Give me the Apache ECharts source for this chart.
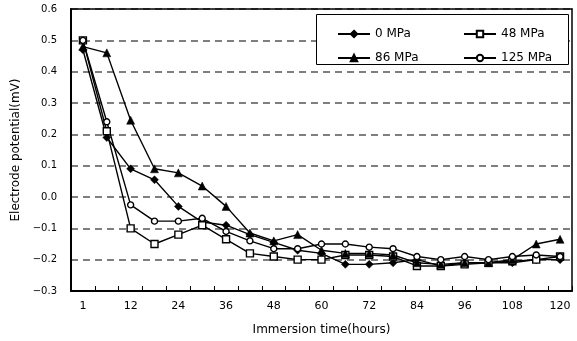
<!DOCTYPE html>
<html>
<head>
<meta charset="utf-8">
<script src="https://cdn.jsdelivr.net/npm/echarts@6/dist/echarts.min.js"></script>
<style>
html,body{margin:0;padding:0;background:#fff;}
#chart{width:577px;height:341px;}
</style>
</head>
<body>
<div id="chart"></div>
<script>
var categories = ['1','6','12','18','24','30','36','42','48','54','60','66','72','78','84','90','96','102','108','114','120'];
var seriesNames = ['0 MPa','48 MPa','86 MPa','125 MPa'];
var mpa0   = [0.47, 0.19, 0.09, 0.055, -0.03, -0.08, -0.09, -0.12, -0.145, -0.17, -0.18, -0.215, -0.215, -0.21, -0.20, -0.22, -0.21, -0.21, -0.21, -0.20, -0.20];
var mpa48  = [0.50, 0.21, -0.10, -0.15, -0.12, -0.09, -0.135, -0.18, -0.19, -0.20, -0.20, -0.185, -0.185, -0.19, -0.22, -0.22, -0.215, -0.21, -0.205, -0.20, -0.19];
var mpa86  = [0.48, 0.46, 0.245, 0.09, 0.077, 0.035, -0.03, -0.115, -0.14, -0.12, -0.17, -0.18, -0.18, -0.185, -0.21, -0.215, -0.21, -0.21, -0.20, -0.15, -0.135];
var mpa125 = [0.50, 0.24, -0.025, -0.077, -0.077, -0.068, -0.11, -0.14, -0.165, -0.165, -0.15, -0.15, -0.16, -0.165, -0.19, -0.20, -0.19, -0.20, -0.19, -0.185, -0.19];
var yTicks = {min: -0.3, max: 0.6, interval: 0.1};

var FONT = 'DejaVu Sans';
var chart = echarts.init(document.getElementById('chart'), null, {renderer: 'canvas'});

function mkSeries(name, data, symbol, size, hollow) {
  return {
    name: name, type: 'line', data: data,
    symbol: symbol, symbolSize: size, showAllSymbol: true,
    lineStyle: {color: '#000', width: 1.4},
    itemStyle: hollow ? {color: '#fff', borderColor: '#000', borderWidth: 1.4} : {color: '#000', borderColor: '#000', borderWidth: 0.5},
    emphasis: {disabled: true},
    animation: false,
    z: 5
  };
}

function mkLegend(name, left, top) {
  return {
    data: [name], left: left, top: top,
    itemWidth: 32, itemHeight: 8,
    textStyle: {fontFamily: FONT, fontSize: 12, color: '#000'},
    selectedMode: false, z: 10
  };
}

var option = {
  backgroundColor: '#fff',
  animation: false,
  grid: {left: 71, right: 5, top: 9, bottom: 46, show: false},
  legend: [
    mkLegend(seriesNames[0], 332, 23),
    mkLegend(seriesNames[1], 458, 23),
    mkLegend(seriesNames[2], 332, 47),
    mkLegend(seriesNames[3], 458, 47)
  ],
  graphic: [{
    type: 'rect', left: 316, top: 14, z: 8,
    shape: {width: 252, height: 50},
    style: {fill: '#fff', stroke: '#000', lineWidth: 1}
  }],
  xAxis: [{
    type: 'category', data: categories, boundaryGap: true,
    name: 'Immersion time(hours)', nameLocation: 'middle', nameGap: 33,
    nameTextStyle: {fontFamily: FONT, fontSize: 12, color: '#000'},
    axisLine: {onZero: false, lineStyle: {color: '#000', width: 2}},
    axisTick: {show: true, inside: true, length: 5, interval: 0, lineStyle: {color: '#000', width: 1}},
    axisLabel: {interval: 1, margin: 10, fontFamily: FONT, fontSize: 11, color: '#000'},
    splitLine: {show: false}
  }, {
    type: 'category', data: categories, position: 'top', z: 20,
    axisLine: {show: true, onZero: false, lineStyle: {color: '#000', width: 1.5}},
    axisTick: {show: false}, axisLabel: {show: false}, splitLine: {show: false}
  }],
  yAxis: [{
    type: 'value', min: yTicks.min, max: yTicks.max, interval: yTicks.interval,
    name: 'Electrode potential(mV)', nameLocation: 'middle', nameGap: 46,
    nameTextStyle: {fontFamily: FONT, fontSize: 12, color: '#000'},
    axisLine: {show: true, onZero: false, lineStyle: {color: '#000', width: 2}},
    axisTick: {show: false},
    axisLabel: {margin: 14, fontFamily: FONT, fontSize: 10, color: '#000',
      formatter: function (v) { var s = Math.abs(v).toFixed(1); return (v < -1e-9 ? '\u2212' : '') + s; }},
    splitLine: {show: true, lineStyle: {color: '#555', width: 1.5, type: [7, 5]}}
  }, {
    type: 'value', min: yTicks.min, max: yTicks.max, interval: yTicks.interval, position: 'right', z: 20,
    axisLine: {show: true, onZero: false, lineStyle: {color: '#000', width: 1.5}},
    axisTick: {show: false}, axisLabel: {show: false}, splitLine: {show: false}
  }],
  series: [
    mkSeries(seriesNames[0], mpa0, 'diamond', 8, false),
    mkSeries(seriesNames[1], mpa48, 'rect', 7, true),
    mkSeries(seriesNames[2], mpa86, 'triangle', 8, false),
    mkSeries(seriesNames[3], mpa125, 'circle', 6, true)
  ]
};
chart.setOption(option);
</script>
</body>
</html>
